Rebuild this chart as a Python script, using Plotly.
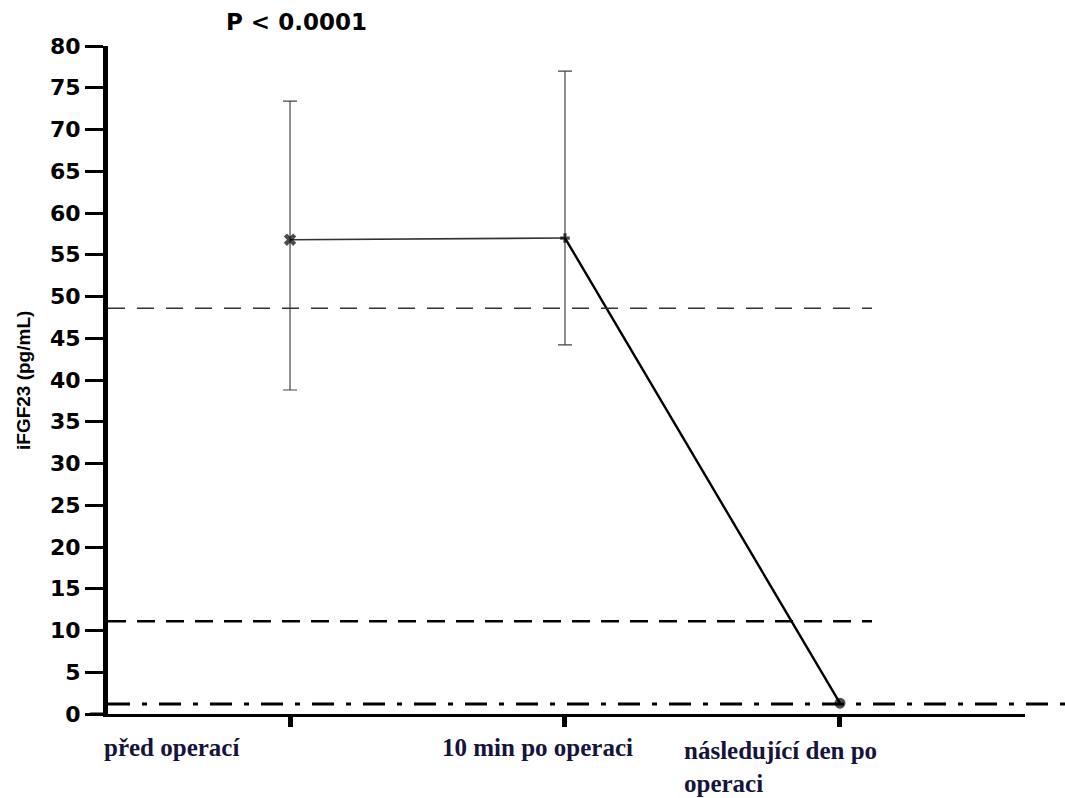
import plotly.graph_objects as go

categories = ["před operací", "10 min po operaci", "následující den po<br>operaci"]
x_pos = [0, 1, 2]
means = [56.8, 57.0, 1.3]
err_plus = [16.6, 20.0, 0.0]
err_minus = [18.0, 12.8, 0.0]
ref_lines = [48.6, 11.1, 1.2]
y_ticks = list(range(0, 85, 5))
p_text = "P < 0.0001"
y_title = "iFGF23 (pg/mL)"

W, H = 1065, 798
L, R, T, B = 108, 40, 46, 84
pw = W - L - R
ph = H - T - B
x0 = -0.662
x1 = 2.673


def px_to_paper(px):
    return (px - L) / pw


def py_to_paper(py):
    return (H - B - py) / ph


fig = go.Figure()

fig.add_trace(go.Scatter(
    x=x_pos[:2], y=means[:2], mode="markers",
    marker=dict(size=1, color="rgba(0,0,0,0)"),
    error_y=dict(type="data", array=err_plus[:2], arrayminus=err_minus[:2],
                 color="#444", thickness=1.2, width=7),
    showlegend=False, hoverinfo="skip"))

fig.add_trace(go.Scatter(x=x_pos[:2], y=means[:2], mode="lines",
                         line=dict(color="#333", width=1.6), showlegend=False))
fig.add_trace(go.Scatter(x=x_pos[1:], y=means[1:], mode="lines",
                         line=dict(color="black", width=2.4), showlegend=False))

fig.add_trace(go.Scatter(
    x=x_pos, y=means, mode="markers",
    marker=dict(symbol=["x", "cross", "circle"], size=[11, 8, 11], color="black",
                line=dict(width=0)),
    showlegend=False))

fig.add_shape(type="line", xref="paper", yref="y", x0=0, x1=px_to_paper(872),
              y0=ref_lines[0], y1=ref_lines[0],
              line=dict(color="#333", width=1.5, dash="17px,12px"))
fig.add_shape(type="line", xref="paper", yref="y", x0=0, x1=px_to_paper(872),
              y0=ref_lines[1], y1=ref_lines[1],
              line=dict(color="black", width=2.4, dash="18px,11px"))
fig.add_shape(type="line", xref="paper", yref="y", x0=0, x1=px_to_paper(1065),
              y0=ref_lines[2], y1=ref_lines[2],
              line=dict(color="black", width=3, dash="22px,12px,5px,12px"))
fig.add_shape(type="line", xref="paper", yref="y", x0=px_to_paper(90), x1=0,
              y0=0, y1=0, line=dict(color="black", width=3))

cat_font = dict(family="Liberation Serif", size=25, color="#14143c")
fig.add_annotation(text="<b>" + categories[0] + "</b>", xref="paper", yref="paper",
                   x=px_to_paper(172), y=py_to_paper(748),
                   xanchor="center", yanchor="middle", showarrow=False, font=cat_font)
fig.add_annotation(text="<b>" + categories[1] + "</b>", xref="paper", yref="paper",
                   x=px_to_paper(537), y=py_to_paper(748),
                   xanchor="center", yanchor="middle", showarrow=False, font=cat_font)
fig.add_annotation(text="<b>" + categories[2] + "</b>", xref="paper", yref="paper",
                   x=px_to_paper(682), y=py_to_paper(735),
                   xanchor="left", yanchor="top", align="left", showarrow=False,
                   font=cat_font)

fig.add_annotation(text="<b>" + p_text + "</b>", xref="paper", yref="paper",
                   x=px_to_paper(224), y=py_to_paper(22),
                   xanchor="left", yanchor="middle", showarrow=False,
                   font=dict(family="DejaVu Sans", size=23, color="black"))

fig.add_annotation(text="<b>" + y_title + "</b>", xref="paper", yref="paper",
                   x=px_to_paper(23), y=py_to_paper(381), textangle=-90,
                   xanchor="center", yanchor="middle", showarrow=False,
                   font=dict(family="Liberation Sans", size=19, color="black"))

fig.update_layout(
    width=W, height=H,
    margin=dict(l=L, r=R, t=T, b=B, autoexpand=False),
    paper_bgcolor="white", plot_bgcolor="white",
    xaxis=dict(range=[x0, x1], tickvals=x_pos, showticklabels=False,
               ticks="outside", ticklen=10, tickwidth=5, tickcolor="black",
               showline=True, linecolor="black", linewidth=3,
               showgrid=False, zeroline=False),
    yaxis=dict(range=[0, 80], tickmode="array", tickvals=y_ticks,
               ticktext=["<b>%d</b>" % v for v in y_ticks],
               ticks="outside", ticklen=18, automargin=False,
               tickwidth=3, tickcolor="black", showline=True, linecolor="black",
               linewidth=5, showgrid=False, zeroline=False,
               tickfont=dict(family="DejaVu Sans", size=22, color="black")),
)

fig.write_html("out.html")
